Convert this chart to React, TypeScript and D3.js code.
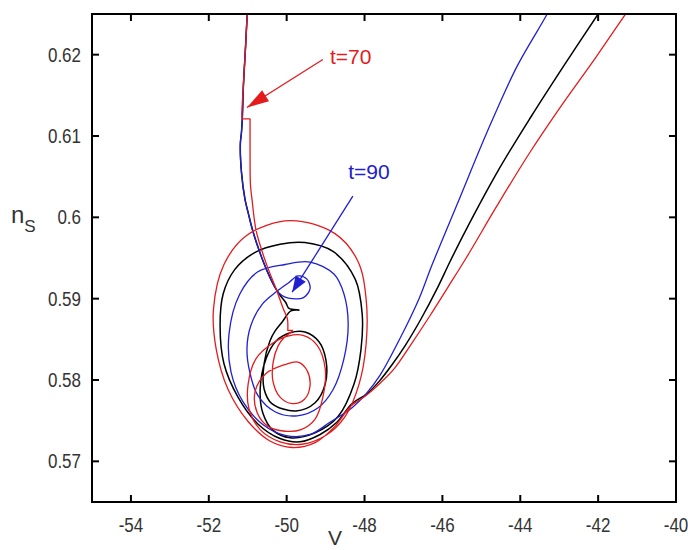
import React from 'react';
import * as d3 from 'd3';

type Pt = [number, number];

// axis ticks
const xTicks = [-54, -52, -50, -48, -46, -44, -42, -40];
const xTickLabels = ['-54', '-52', '-50', '-48', '-46', '-44', '-42', '-40'];
const yTicks = [0.57, 0.58, 0.59, 0.6, 0.61, 0.62];
const yTickLabels = ['0.57', '0.58', '0.59', '0.6', '0.61', '0.62'];

// (V, n_s) trajectories
// common descent, all three runs
const descentTop: Pt[] = [
  [-50.98, 0.6265], [-51.01, 0.625], [-51.06, 0.6206], [-51.11, 0.6163], [-51.14, 0.6121],
];
// black and blue keep going together
const descentMid: Pt[] = [
  [-51.16, 0.6105], [-51.19, 0.609], [-51.16, 0.6055], [-51.07, 0.6022], [-50.98, 0.6004],
  [-50.88, 0.5985], [-50.72, 0.5961], [-50.52, 0.5936], [-50.3, 0.5914],
];
const blackSpiral: Pt[] = [
  [-50.15, 0.5903], [-50.02, 0.5895], [-49.94, 0.5888], [-49.68, 0.5886], [-49.89, 0.5885],
  [-50.12, 0.5871], [-50.3, 0.586], [-50.43, 0.5848], [-50.58, 0.582], [-50.58, 0.5789],
  [-50.38, 0.5771], [-49.76, 0.5762], [-49.27, 0.5772], [-49.01, 0.5795], [-48.99, 0.5824],
  [-49.17, 0.5847], [-49.53, 0.5859], [-49.91, 0.5858], [-50.27, 0.5848], [-50.53, 0.5826],
  [-50.68, 0.5789], [-50.61, 0.5759], [-50.35, 0.5738], [-49.91, 0.5729], [-49.27, 0.5735],
  [-48.68, 0.5755], [-48.27, 0.5795], [-48.09, 0.5838], [-48.06, 0.5881], [-48.24, 0.5924],
  [-48.81, 0.5958], [-49.53, 0.5969], [-50.17, 0.5967], [-50.81, 0.5957], [-51.33, 0.5936],
  [-51.63, 0.5906], [-51.71, 0.5866], [-51.61, 0.582], [-51.25, 0.5779], [-50.74, 0.5746],
  [-50.17, 0.5728], [-49.66, 0.5724], [-49.14, 0.5733], [-48.71, 0.5748], [-48.32, 0.5771],
];
const blackDiagonal: Pt[] = [
  [-47.94, 0.5783], [-47.63, 0.5798], [-47.29, 0.5819], [-46.96, 0.5842], [-46.55, 0.5875],
  [-46.14, 0.5912], [-45.8, 0.5946], [-45.39, 0.5985], [-44.55, 0.6059], [-43.72, 0.6124],
  [-42.9, 0.6185], [-42.0, 0.625], [-41.85, 0.6261],
];
const blueSpiral: Pt[] = [
  [-50.2, 0.5907], [-50.04, 0.5902], [-49.86, 0.59], [-49.58, 0.5901], [-49.4, 0.5912],
  [-49.48, 0.5924], [-49.71, 0.5928], [-49.94, 0.592], [-50.25, 0.5909], [-50.63, 0.5893],
  [-50.92, 0.5867], [-51.02, 0.5838], [-50.94, 0.5808], [-50.74, 0.5781], [-50.3, 0.5761],
  [-49.73, 0.5756], [-49.19, 0.5766], [-48.81, 0.5788], [-48.53, 0.5826], [-48.42, 0.5869],
  [-48.53, 0.5906], [-48.78, 0.593], [-49.4, 0.5945], [-50.04, 0.5942], [-50.74, 0.5933],
  [-51.2, 0.5906], [-51.48, 0.5857], [-51.43, 0.581], [-51.12, 0.5773], [-50.63, 0.5746],
  [-50.04, 0.5732], [-49.4, 0.5733], [-48.89, 0.5748],
];
const blueDiagonal: Pt[] = [
  [-48.32, 0.5766], [-47.96, 0.5783], [-47.6, 0.5806], [-47.09, 0.5851], [-46.6, 0.59],
  [-46.27, 0.5941], [-45.57, 0.6022], [-44.86, 0.6104], [-44.09, 0.6185], [-43.32, 0.6249],
  [-43.21, 0.626],
];
// red: pulse switched on at t=70 (first step), off again at the second step
const redPulse: Pt[] = [
  [-51.12, 0.6121], [-50.96, 0.6121], [-50.94, 0.6121], [-50.94, 0.6119], [-50.94, 0.6083],
  [-50.93, 0.604], [-50.89, 0.6022], [-50.79, 0.5985], [-50.63, 0.5958], [-50.47, 0.5936],
  [-50.27, 0.5912], [-50.09, 0.5888], [-49.98, 0.5875], [-49.97, 0.5862], [-49.97, 0.5861],
  [-49.94, 0.5861], [-49.86, 0.5861], [-49.85, 0.5861], [-49.855, 0.586], [-49.94, 0.5857],
];
const redSpiral: Pt[] = [
  [-50.07, 0.5852], [-50.22, 0.5842], [-50.35, 0.5821], [-50.35, 0.5798], [-50.17, 0.5779],
  [-49.86, 0.5771], [-49.55, 0.5776], [-49.4, 0.5793], [-49.48, 0.5812], [-49.71, 0.5822],
  [-50.04, 0.5819], [-50.53, 0.5808], [-50.81, 0.5786], [-50.76, 0.576], [-50.48, 0.5743],
  [-50.04, 0.5737], [-49.63, 0.5739], [-49.27, 0.5752], [-49.07, 0.5779], [-49.01, 0.5814],
  [-49.22, 0.5843], [-49.58, 0.5855], [-49.97, 0.5854], [-50.4, 0.5844], [-50.79, 0.5826],
  [-50.99, 0.5795], [-50.97, 0.5765], [-50.68, 0.5739], [-50.17, 0.5724], [-49.61, 0.5721],
  [-48.99, 0.5732], [-48.5, 0.5755], [-48.14, 0.5795], [-47.96, 0.5844], [-47.96, 0.59],
  [-48.17, 0.5946], [-48.76, 0.598], [-49.91, 0.5996], [-51.02, 0.5978], [-51.61, 0.5942],
  [-51.88, 0.5887], [-51.81, 0.5838], [-51.51, 0.5789], [-50.99, 0.5749], [-50.43, 0.5725],
  [-49.86, 0.5717], [-49.27, 0.5723], [-48.76, 0.5743],
];
const redDiagonal: Pt[] = [
  [-48.37, 0.5767], [-47.96, 0.5781], [-47.58, 0.5797], [-47.22, 0.5815], [-46.83, 0.5842],
  [-46.32, 0.5879], [-45.86, 0.5914], [-45.39, 0.595], [-44.6, 0.6014], [-43.75, 0.608],
  [-42.89, 0.6141], [-42.04, 0.6198], [-41.31, 0.6249], [-41.15, 0.626],
];

// annotations
const annoLabels = ['t=70', 't=90'];
const annoTextAt: Pt[] = [[-48.89, 0.6188], [-48.42, 0.6047]];
const arrowFrom: Pt[] = [[-49.07, 0.6194], [-48.3, 0.6026]];
const arrowTo: Pt[] = [[-51.02, 0.6135], [-49.86, 0.5908]];

const RED = '#e31b1d';
const BLUE = '#2020d0';
const FONT = "'Liberation Sans', Arial, sans-serif";

const W = 688;
const H = 550;
const plot = { left: 92, right: 676, top: 14, bottom: 502 };

export default function App() {
  const x = d3.scaleLinear().domain([-55, -40]).range([plot.left, plot.right]);
  const y = d3.scaleLinear().domain([0.565, 0.625]).range([plot.bottom, plot.top]);

  const line = d3.line<Pt>()
    .x(d => x(d[0]))
    .y(d => y(d[1]))
    .curve(d3.curveCatmullRom.alpha(0.5));

  const blackTrack = [...descentTop, ...descentMid, ...blackSpiral, ...blackDiagonal];
  const blueTrack = [...descentTop, ...descentMid, ...blueSpiral, ...blueDiagonal];
  const redTrack = [...descentTop, ...redPulse, ...redSpiral, ...redDiagonal];

  const annoColors = [RED, BLUE];
  const headLen = [22, 16];
  const headHalf = [6.5, 6];

  const arrowHead = (i: number) => {
    const x0 = x(arrowFrom[i][0]), y0 = y(arrowFrom[i][1]);
    const x1 = x(arrowTo[i][0]), y1 = y(arrowTo[i][1]);
    const len = Math.hypot(x0 - x1, y0 - y1);
    const ux = (x0 - x1) / len, uy = (y0 - y1) / len;
    const bx = x1 + ux * headLen[i], by = y1 + uy * headLen[i];
    const px = -uy * headHalf[i], py = ux * headHalf[i];
    return `${x1},${y1} ${bx + px},${by + py} ${bx - px},${by - py}`;
  };

  const tickLen = 7;

  return (
    <svg width={W} height={H} style={{ position: 'absolute', left: 0, top: 0, background: '#fff' }}>
      <defs>
        <clipPath id="plotClip">
          <rect x={plot.left} y={plot.top} width={plot.right - plot.left} height={plot.bottom - plot.top} />
        </clipPath>
      </defs>

      <g clipPath="url(#plotClip)" fill="none" strokeLinejoin="round" strokeLinecap="round">
        <path d={line(blackTrack) || ''} stroke="#000" strokeWidth={1.5} />
        <path d={line(blueTrack) || ''} stroke={BLUE} strokeWidth={1.3} />
        <path d={line(redTrack) || ''} stroke={RED} strokeWidth={1.3} />
      </g>

      {/* annotations */}
      {annoLabels.map((lab, i) => (
        <g key={lab}>
          <line x1={x(arrowFrom[i][0])} y1={y(arrowFrom[i][1])}
            x2={x(arrowTo[i][0])} y2={y(arrowTo[i][1])}
            stroke={annoColors[i]} strokeWidth={1.3} />
          <polygon points={arrowHead(i)} fill={annoColors[i]} />
          <text x={x(annoTextAt[i][0])} y={y(annoTextAt[i][1])} fill={annoColors[i]}
            fontFamily={FONT} fontSize={21}>{lab}</text>
        </g>
      ))}

      {/* frame + ticks on all sides */}
      <rect x={plot.left} y={plot.top} width={plot.right - plot.left} height={plot.bottom - plot.top}
        fill="none" stroke="#000" strokeWidth={2} />
      {xTicks.map(t => (
        <g key={'x' + t} stroke="#000" strokeWidth={2}>
          <line x1={x(t)} x2={x(t)} y1={plot.bottom} y2={plot.bottom - tickLen} />
          <line x1={x(t)} x2={x(t)} y1={plot.top} y2={plot.top + tickLen} />
        </g>
      ))}
      {yTicks.map(t => (
        <g key={'y' + t} stroke="#000" strokeWidth={2}>
          <line x1={plot.left} x2={plot.left + tickLen} y1={y(t)} y2={y(t)} />
          <line x1={plot.right} x2={plot.right - tickLen} y1={y(t)} y2={y(t)} />
        </g>
      ))}

      {xTicks.map((t, i) => (
        <text key={'xl' + t} transform={`translate(${x(t)},532) scale(1,1.15)`} textAnchor="middle"
          fontFamily={FONT} fontSize={17} fill="#333">{xTickLabels[i]}</text>
      ))}
      {yTicks.map((t, i) => (
        <text key={'yl' + t} transform={`translate(81,${y(t) + 7}) scale(1,1.15)`} textAnchor="end"
          fontFamily={FONT} fontSize={17} fill="#333">{yTickLabels[i]}</text>
      ))}

      {/* axis titles */}
      <text x={335} y={545} textAnchor="middle" fontFamily={FONT} fontSize={21} fill="#333">V</text>
      <text x={11} y={223} fontFamily={FONT} fontSize={24} fill="#333">
        n<tspan fontSize={17} dy={9}>S</tspan>
      </text>
    </svg>
  );
}
